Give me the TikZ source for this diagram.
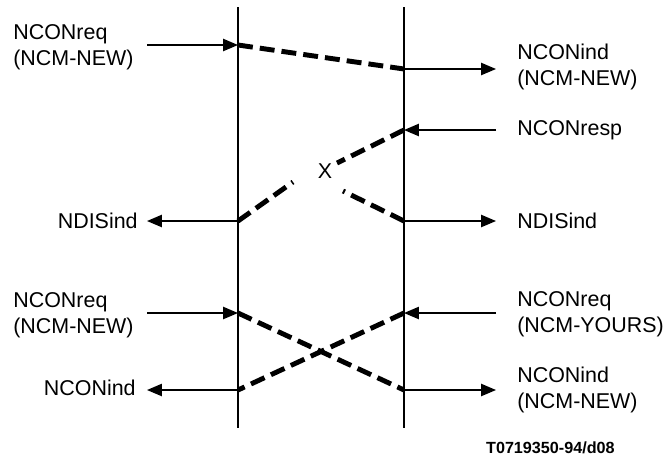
\documentclass[tikz,border=0pt]{standalone}
\usepackage{fontspec}
\setmainfont{Liberation Sans}
\usetikzlibrary{arrows.meta}

\begin{document}
\begin{tikzpicture}
            [x=0.02cm,y=-0.02cm,
             every node/.style={inner sep=0,font=\fontsize{12.2}{14.7}\selectfont},
             lbl/.style={align=left},
             axis/.style={line width=1pt, black},
             prim/.style={line width=0.8pt, black, -{Triangle[length=8.5pt,width=7pt]}},
             pdu/.style={line width=2.8pt, black, dash pattern=on 8.5pt off 4pt}]

            \useasboundingbox (0,0) rectangle (666,461);

            % the two service boundaries
            \coordinate (lt) at (238,7);
            \coordinate (lb) at (238,428);
            \coordinate (rt) at (404,7);
            \coordinate (rb) at (404,428);

            \coordinate (a1) at (238,45);
            \coordinate (a2) at (238,221);
            \coordinate (a3) at (238,313);
            \coordinate (a4) at (238,390);
            \coordinate (b1) at (404,69);
            \coordinate (b2) at (404,130);
            \coordinate (b3) at (404,221);
            \coordinate (b4) at (404,313);
            \coordinate (b5) at (404,390);

            \coordinate (la1) at (147,45);
            \coordinate (la2) at (147,221);
            \coordinate (la3) at (147,313);
            \coordinate (la4) at (147,390);
            \coordinate (rb1) at (496,69);
            \coordinate (rb2) at (496,130);
            \coordinate (rb3) at (496,221);
            \coordinate (rb4) at (496,313);
            \coordinate (rb5) at (496,390);

            \coordinate (g1) at (337,163);
            \coordinate (g2) at (293,182);
            \coordinate (g3) at (343,191);

            \node[lbl, anchor=west] (t1) at (13,47) {NCONreq\\(NCM-NEW)};
            \node[lbl, anchor=west] (t2) at (517,67) {NCONind\\(NCM-NEW)};
            \node[lbl, anchor=west] (t3) at (517,130) {NCONresp};
            \node[anchor=east] (t4) at (138,221) {NDISind};
            \node[lbl, anchor=west] (t5) at (517,221) {NDISind};
            \node[lbl, anchor=west] (t6) at (13,315) {NCONreq\\(NCM-NEW)};
            \node[lbl, anchor=west] (t7) at (517,314) {NCONreq\\(NCM-YOURS)};
            \node[anchor=east] (t8) at (136,388) {NCONind};
            \node[lbl, anchor=west] (t9) at (517,390) {NCONind\\(NCM-NEW)};
            \node (x) at (325,171) {X};
            \node[anchor=east, font=\fontsize{9.2}{11}\selectfont\bfseries] (ref) at (615,448) {T0719350-94/d08};

            \draw[axis] (lt) -- (lb);
            \draw[axis] (rt) -- (rb);

            \draw[prim] (la1) -- (a1);
            \draw[pdu] (a1) -- (b1);
            \draw[prim] (b1) -- (rb1);

            \draw[prim] (rb2) -- (b2);
            \draw[pdu] (b2) -- (g1);
            \draw[pdu] (a2) -- (g2);
            \draw[prim] (a2) -- (la2);
            \draw[pdu] (b3) -- (g3);
            \draw[prim] (b3) -- (rb3);

            \draw[prim] (la3) -- (a3);
            \draw[prim] (rb4) -- (b4);
            \draw[pdu] (a3) -- (b5);
            \draw[pdu] (b4) -- (a4);
            \draw[prim] (a4) -- (la4);
            \draw[prim] (b5) -- (rb5);
          \end{tikzpicture}
\end{document}
